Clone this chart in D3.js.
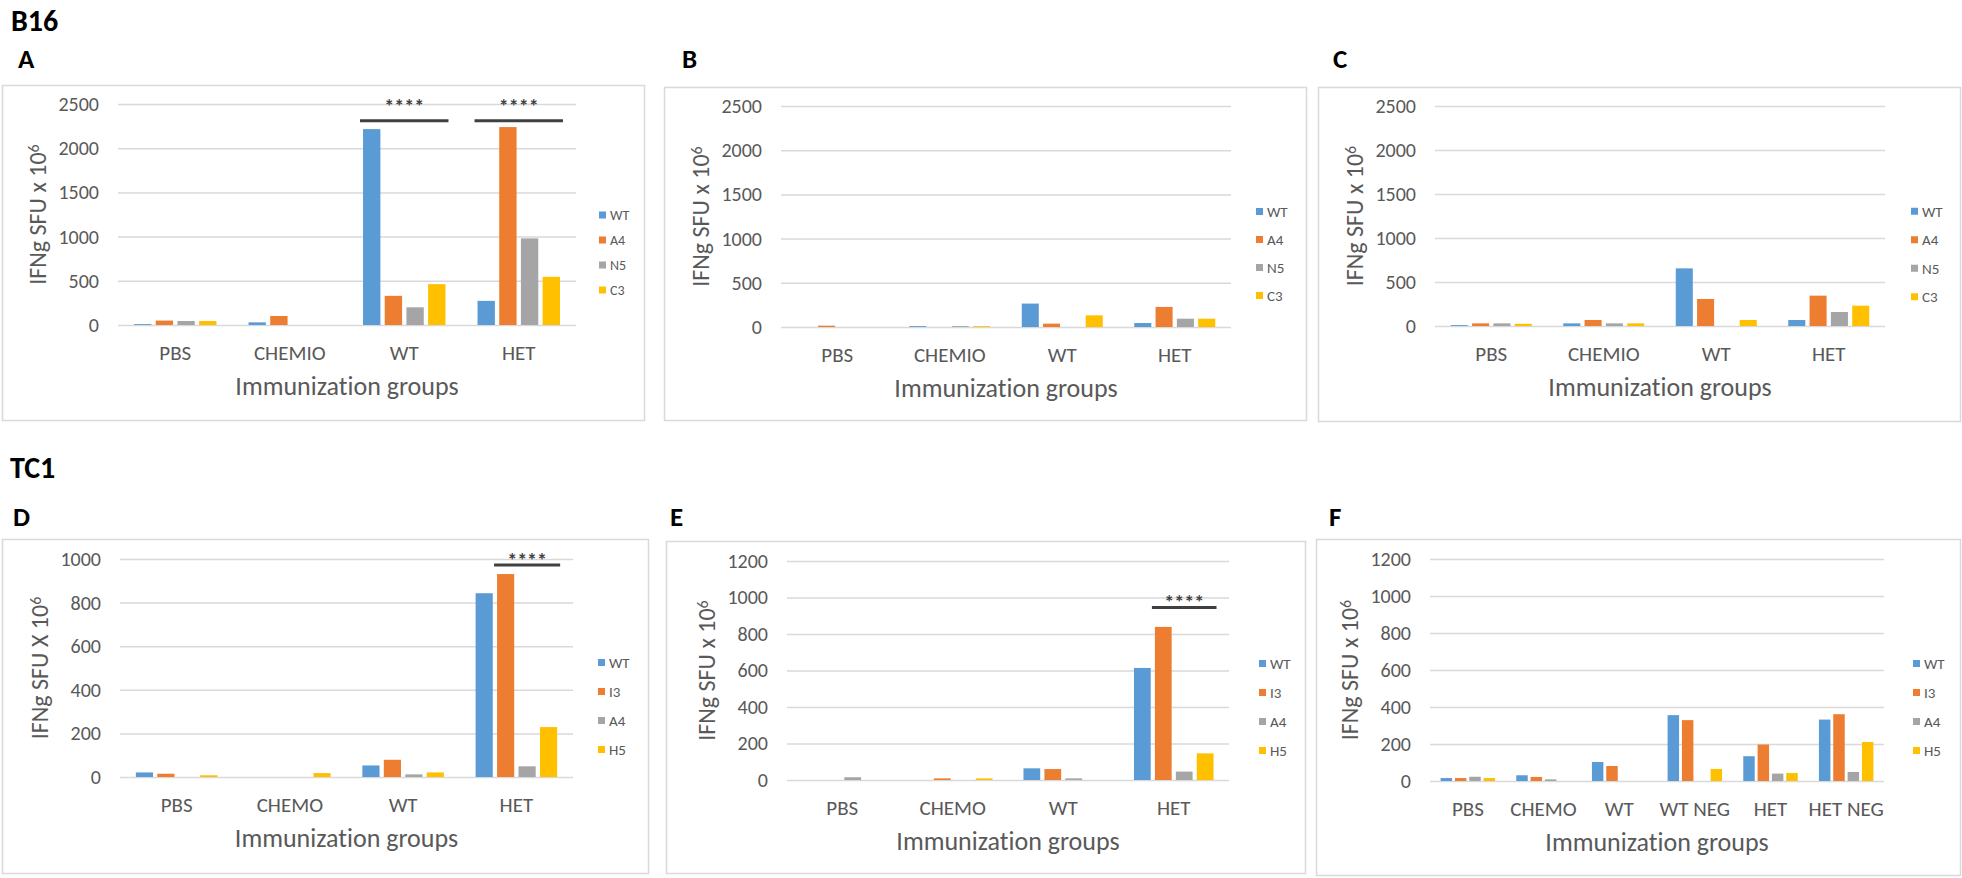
<!DOCTYPE html>
<html lang="en">
<head>
<meta charset="utf-8">
<title>IFNg SFU by immunization group</title>
<script src="https://cdn.jsdelivr.net/npm/d3@7/dist/d3.min.js"></script>
<style>
body { margin: 0; background: #fff; }
svg text { font-family: Carlito, Lato, "Open Sans", sans-serif; font-variant-ligatures: none; font-feature-settings: "liga" 0, "clig" 0; }
</style>
</head>
<body>
<svg id="chart" width="1962" height="878"></svg>
<script>
// B16 panels (A, B, C)
var groupsB16 = ["PBS", "CHEMIO", "WT", "HET"];
var seriesB16 = ["WT", "A4", "N5", "C3"];
var ticksB16 = [0, 500, 1000, 1500, 2000, 2500];
// one row per group, values in series order
var valuesA = [[10, 50, 45, 45], [30, 102, 0, 0], [2216, 330, 200, 462], [273, 2239, 980, 545]];
var valuesB = [[0, 15, 0, 0], [10, 0, 10, 10], [265, 38, 0, 132], [45, 227, 94, 94]];
var valuesC = [[10, 30, 30, 25], [30, 68, 30, 30], [655, 307, 0, 68], [68, 345, 159, 231]];

// TC1 panels (D, E, F)
var groupsD = ["PBS", "CHEMO", "WT", "HET"];
var groupsF = ["PBS", "CHEMO", "WT", "WT NEG", "HET", "HET NEG"];
var seriesTC1 = ["WT", "I3", "A4", "H5"];
var ticksD = [0, 200, 400, 600, 800, 1000];
var ticksEF = [0, 200, 400, 600, 800, 1000, 1200];
var valuesD = [[21, 15, 0, 8], [0, 0, 0, 18], [53, 79, 12, 21], [843, 931, 49, 229]];
var valuesE = [[0, 0, 15, 0], [0, 9, 0, 9], [64, 60, 9, 0], [614, 839, 46, 146]];
var valuesF = [[16, 16, 23, 16], [31, 22, 9, 0], [103, 81, 0, 0], [356, 329, 0, 65], [134, 197, 40, 43], [332, 361, 49, 211]];

// significance bars: group, first/last series index, line level and label level (in y units)
var sigA = [{group: "WT", from: 0, to: 3, line: 2310, text: 2525}, {group: "HET", from: 0, to: 3, line: 2310, text: 2525}];
var sigD = [{group: "HET", from: 1, to: 3, line: 972, text: 1014}];
var sigE = [{group: "HET", from: 1, to: 3, line: 945, text: 1000}];

var colors = ["#5B9BD5", "#ED7D31", "#A5A5A5", "#FFC000"];
var textGrey = "#595959";
var gridGrey = "#D9D9D9";

var svg = d3.select("#chart");

// section headers
svg.append("text").attr("x", 11).attr("y", 31).attr("font-size", 30).attr("font-weight", "bold").text("B16");
svg.append("text").attr("x", 10).attr("y", 478).attr("font-size", 30).attr("font-weight", "bold").text("TC1");

var panels = [
  {letter: "A", lx: 18, ly: 68, groups: groupsB16, series: seriesB16, values: valuesA, ticks: ticksB16, ytitle: "IFNg SFU x 10", sig: sigA,
   box: [2, 85, 644, 420], px: [118, 576], py: [325, 104], legendX: 599, legendStep: 25, legendSize: 14},
  {letter: "B", lx: 682, ly: 68, groups: groupsB16, series: seriesB16, values: valuesB, ticks: ticksB16, ytitle: "IFNg SFU x 10", sig: [],
   box: [664, 87, 1306, 420], px: [781, 1231], py: [327, 106], legendX: 1256, legendStep: 28, legendSize: 15},
  {letter: "C", lx: 1333, ly: 68, groups: groupsB16, series: seriesB16, values: valuesC, ticks: ticksB16, ytitle: "IFNg SFU x 10", sig: [],
   box: [1318, 87, 1960, 421], px: [1435, 1885], py: [326, 106], legendX: 1911, legendStep: 28.5, legendSize: 15},
  {letter: "D", lx: 13, ly: 526, groups: groupsD, series: seriesTC1, values: valuesD, ticks: ticksD, ytitle: "IFNg SFU X 10", sig: sigD,
   box: [2, 539, 648, 873], px: [120, 573], py: [777, 559], legendX: 598, legendStep: 29, legendSize: 15},
  {letter: "E", lx: 670, ly: 526, groups: groupsD, series: seriesTC1, values: valuesE, ticks: ticksEF, ytitle: "IFNg SFU x 10", sig: sigE,
   box: [666, 541, 1305, 873], px: [787, 1229], py: [780, 561], legendX: 1259, legendStep: 29, legendSize: 15},
  {letter: "F", lx: 1329, ly: 526, groups: groupsF, series: seriesTC1, values: valuesF, ticks: ticksEF, ytitle: "IFNg SFU x 10", sig: [],
   box: [1316, 539, 1960, 875], px: [1430, 1884], py: [781, 559], legendX: 1913, legendStep: 29, legendSize: 15}
];

panels.forEach(function(p) {
  var g = svg.append("g");

  // frame
  g.append("rect")
    .attr("x", p.box[0] + 0.5).attr("y", p.box[1] + 0.5)
    .attr("width", p.box[2] - p.box[0]).attr("height", p.box[3] - p.box[1])
    .attr("fill", "#fff").attr("stroke", gridGrey).attr("stroke-width", 1.5);

  svg.append("text").attr("x", p.lx).attr("y", p.ly)
    .attr("font-size", 27).attr("font-weight", "bold").text(p.letter);

  var y = d3.scaleLinear().domain([0, d3.max(p.ticks)]).range(p.py);
  var x0 = d3.scaleBand().domain(p.groups).range(p.px);
  var gw = x0.bandwidth() * 0.72;
  var x1 = d3.scaleBand().domain(d3.range(p.series.length))
    .range([(x0.bandwidth() - gw) / 2, (x0.bandwidth() + gw) / 2])
    .paddingInner(0.2);

  // y axis + gridlines
  var ay = g.append("g").attr("transform", "translate(" + p.px[0] + ",0)")
    .call(d3.axisLeft(y).tickValues(p.ticks).tickFormat(d3.format("d"))
      .tickSize(-(p.px[1] - p.px[0])).tickPadding(19));
  ay.select(".domain").remove();
  ay.selectAll(".tick line").attr("stroke", gridGrey).attr("stroke-width", 1.5);
  ay.selectAll(".tick text").attr("font-size", 20).attr("fill", textGrey);

  // bars
  p.groups.forEach(function(grp, gi) {
    g.append("g").selectAll("rect")
      .data(p.values[gi])
      .enter().append("rect")
      .attr("x", function(d, i) { return x0(grp) + x1(i); })
      .attr("y", function(d) { return y(d); })
      .attr("width", x1.bandwidth())
      .attr("height", function(d) { return y(0) - y(d); })
      .attr("fill", function(d, i) { return colors[i]; });
  });

  // category axis
  var ax = g.append("g").attr("transform", "translate(0," + y(0) + ")")
    .call(d3.axisBottom(x0).tickSize(0).tickPadding(20));
  ax.select(".domain").remove();
  ax.selectAll(".tick text").attr("font-size", 21).attr("fill", textGrey);

  // axis titles
  g.append("text")
    .attr("x", (p.px[0] + p.px[1]) / 2).attr("y", y(0) + 62).attr("dy", "0.32em")
    .attr("text-anchor", "middle").attr("font-size", 26).attr("fill", textGrey)
    .text("Immunization groups");

  var yt = g.append("text")
    .attr("transform", "translate(" + (p.px[0] - 80) + "," + ((p.py[0] + p.py[1]) / 2) + ") rotate(-90)")
    .attr("dy", "0.35em").attr("text-anchor", "middle").attr("font-size", 24).attr("fill", textGrey);
  yt.append("tspan").text(p.ytitle);
  yt.append("tspan").attr("dy", "-0.45em").attr("font-size", 16).text("6");

  // legend
  var cy = (p.box[1] + p.box[3]) / 2;
  var lg = g.append("g").selectAll("g")
    .data(p.series)
    .enter().append("g")
    .attr("transform", function(d, i) { return "translate(" + p.legendX + "," + (cy + (i - 1.5) * p.legendStep) + ")"; });
  lg.append("rect").attr("x", 0).attr("y", -3.5).attr("width", 7).attr("height", 7)
    .attr("fill", function(d, i) { return colors[i]; });
  lg.append("text").attr("x", 11).attr("dy", "0.35em")
    .attr("font-size", p.legendSize).attr("fill", textGrey)
    .text(function(d) { return d; });

  // significance markers
  p.sig.forEach(function(s) {
    var xa = x0(s.group) + x1(s.from) - 3;
    var xb = x0(s.group) + x1(s.to) + x1.bandwidth() + 3;
    g.append("line")
      .attr("x1", xa).attr("x2", xb).attr("y1", y(s.line)).attr("y2", y(s.line))
      .attr("stroke", "#404040").attr("stroke-width", 3);
    g.append("text")
      .attr("x", (xa + xb) / 2).attr("y", y(s.text)).attr("dy", "0.57em")
      .attr("text-anchor", "middle").attr("font-size", 20).attr("font-weight", "bold").attr("fill", "#404040")
      .text("****");
  });
});
</script>
</body>
</html>
